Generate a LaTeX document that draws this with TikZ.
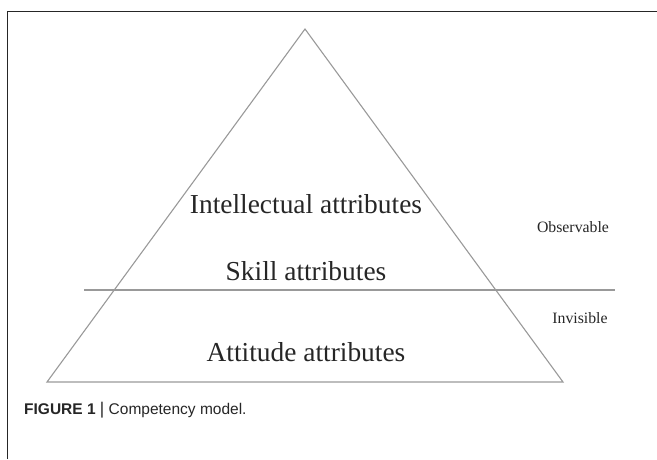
\documentclass[tikz,border=0pt]{standalone}
\usepackage{fontspec}
\setmainfont{Liberation Serif}
\newfontfamily\capfont{Liberation Sans}
\begin{document}
\begin{tikzpicture}[x=1pt,y=-1pt,
  tri/.style={draw=black!40, line width=1.1pt},
  frame/.style={draw=black!85, line width=1.4pt},
  big/.style={anchor=base, inner sep=0pt, font=\fontsize{27.4}{30}\selectfont, text=black!85},
  small/.style={anchor=base, inner sep=0pt, font=\fontsize{15.8}{18}\selectfont, text=black!85}]
\useasboundingbox (0,0) rectangle (657,459);
\draw[frame] (7.5,459) -- (7.5,11.7) -- (657,11.7);
\coordinate (apex) at (305,29);
\coordinate (bl) at (47,382);
\coordinate (br) at (563,382);
\coordinate (hl) at (84,290);
\coordinate (hr) at (615,290);
\draw[tri, line join=miter] (bl) -- (apex) -- (br) -- cycle;
\draw[tri] (hl) -- (hr);
\node[big] (intel) at (306,213) {Intellectual attributes};
\node[big] (skill) at (306,280) {Skill attributes};
\node[big] (att) at (306,361) {Attitude attributes};
\node[small] (obs) at (573,232) {Observable};
\node[small] (inv) at (580,323) {Invisible};
\node[anchor=base west, inner sep=0pt, font=\capfont\fontsize{15.5}{18}\selectfont, text=black!85] (cap) at (24,414)
  {\textbf{FIGURE 1} {\fontsize{17}{18}\selectfont|} Competency model.};
\end{tikzpicture}
\end{document}
